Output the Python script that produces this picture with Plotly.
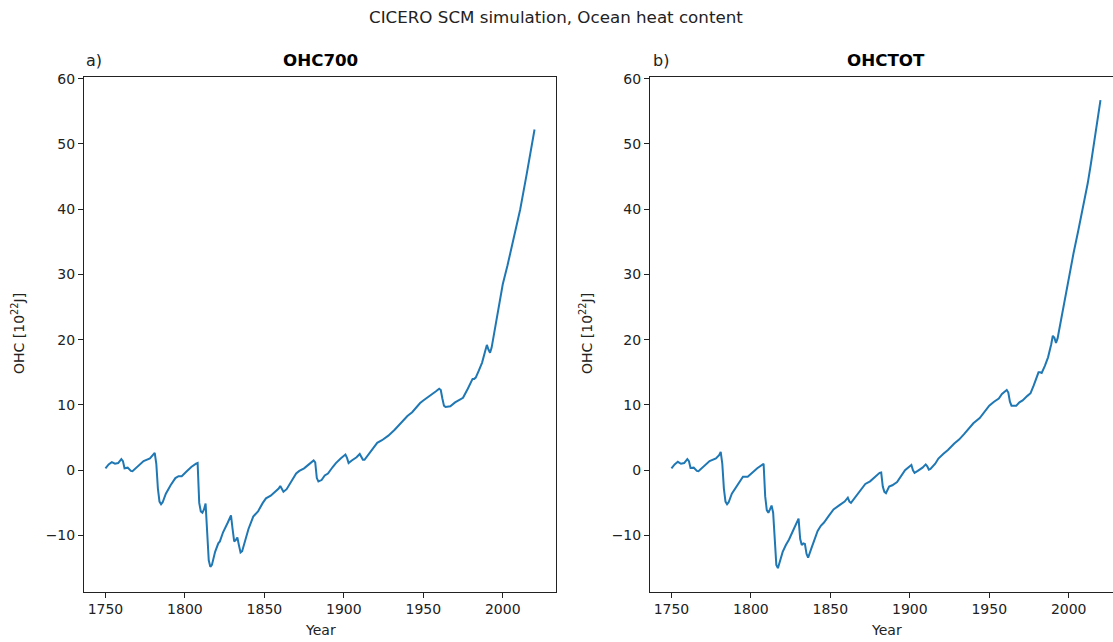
import plotly.graph_objects as go

# ---------------- data ----------------
years_700 = [1750, 1752, 1754, 1756, 1758, 1760, 1761, 1762, 1764, 1766, 1767, 1770, 1774, 1778, 1780,
             1781, 1782, 1783, 1784, 1785, 1786, 1788, 1791, 1794, 1796, 1798, 1801, 1804, 1807, 1808,
             1809, 1810, 1811, 1812, 1813, 1814, 1815, 1816, 1817, 1819, 1821, 1822, 1824, 1827, 1829,
             1830, 1831, 1832, 1833, 1834, 1835, 1836, 1838, 1840, 1843, 1846, 1849, 1851, 1854, 1857,
             1859, 1860, 1861, 1862, 1864, 1867, 1870, 1872, 1875, 1878, 1881, 1882, 1883, 1884, 1886,
             1888, 1890, 1893, 1895, 1898, 1900, 1901, 1902, 1903, 1905, 1908, 1910, 1911, 1912, 1913,
             1916, 1919, 1921, 1924, 1928, 1932, 1936, 1940, 1943, 1945, 1948, 1950, 1953, 1955, 1958,
             1960, 1961, 1962, 1963, 1964, 1967, 1970, 1973, 1975, 1978, 1981, 1982, 1983, 1985, 1987,
             1989, 1990, 1991, 1992, 1993, 1995, 1998, 2000, 2003, 2007, 2011, 2015, 2020]
ohc700 = [0.3, 0.9, 1.25, 1.0, 1.1, 1.7, 1.4, 0.3, 0.4, -0.1, -0.15, 0.5, 1.4, 1.8, 2.3,
          2.65, 1.0, -2.8, -4.8, -5.2, -4.9, -3.6, -2.3, -1.2, -0.9, -0.9, -0.2, 0.5, 1.0, 1.1,
          -5.0, -6.3, -6.5, -6.0, -5.1, -9.5, -13.8, -14.8, -14.5, -12.5, -11.2, -10.9, -9.5, -8.0, -6.9,
          -9.0, -10.9, -10.7, -10.3, -11.5, -12.6, -12.4, -10.5, -9.0, -7.1, -6.3, -5.0, -4.3, -3.9, -3.3,
          -2.8, -2.4, -2.9, -3.3, -2.9, -1.8, -0.5, -0.1, 0.3, 0.9, 1.5, 1.2, -1.2, -1.7, -1.5,
          -0.8, -0.5, 0.5, 1.1, 1.8, 2.2, 2.4, 1.9, 1.1, 1.5, 2.0, 2.5, 2.1, 1.6, 1.6,
          2.6, 3.5, 4.2, 4.6, 5.3, 6.2, 7.3, 8.3, 8.9, 9.5, 10.3, 10.7, 11.2, 11.5, 12.1,
          12.5, 12.3, 11.0, 9.9, 9.7, 9.8, 10.4, 10.9, 11.1, 12.5, 14.0, 14.0, 14.2, 15.3, 16.5,
          18.3, 19.2, 18.5, 18.0, 18.8, 21.5, 25.6, 28.5, 31.4, 35.8, 40.0, 45.3, 52.2]

years_tot = [1750, 1752, 1754, 1756, 1758, 1760, 1761, 1762, 1764, 1766, 1767, 1770, 1774, 1778, 1780,
             1781, 1782, 1783, 1784, 1785, 1786, 1788, 1791, 1795, 1798, 1801, 1804, 1808,
             1809, 1810, 1811, 1812, 1813, 1814, 1815, 1816, 1817, 1818, 1820, 1822, 1824, 1827, 1829,
             1830, 1831, 1832, 1833, 1834, 1835, 1836, 1838, 1840, 1842, 1844, 1846, 1849, 1852, 1856,
             1859, 1861, 1862, 1863, 1866, 1869, 1872, 1875, 1878, 1881, 1882, 1883, 1884, 1885, 1887,
             1889, 1892, 1894, 1897, 1900, 1901, 1902, 1903, 1905, 1908, 1910, 1911, 1912, 1913,
             1916, 1918, 1921, 1924, 1928, 1931, 1934, 1937, 1940, 1944, 1947, 1950, 1953, 1956, 1958,
             1960, 1961, 1962, 1963, 1964, 1967, 1969, 1971, 1974, 1976, 1978, 1980, 1981, 1982, 1983,
             1985, 1987, 1989, 1990, 1991, 1992, 1993, 1995, 1997, 1999, 2001, 2003, 2006, 2009, 2012,
             2014, 2017, 2020]
ohctot = [0.3, 0.9, 1.3, 1.0, 1.1, 1.7, 1.4, 0.35, 0.4, -0.1, -0.15, 0.5, 1.4, 1.8, 2.3,
          2.8, 1.0, -2.8, -4.8, -5.2, -4.9, -3.6, -2.4, -1.0, -1.0, -0.3, 0.3, 1.0,
          -4.0, -6.1, -6.5, -6.0, -5.4, -6.5, -11.5, -14.5, -15.0, -14.2, -12.5, -11.45, -10.6, -9.0, -7.8,
          -7.4, -10.5, -11.45, -11.2, -11.3, -12.8, -13.4, -12.0, -10.5, -9.3, -8.5, -8.0, -7.0, -6.0, -5.3,
          -4.8, -4.2, -4.8, -5.0, -4.0, -3.0, -2.1, -1.7, -1.1, -0.4, -0.35, -2.5, -3.3, -3.5, -2.5,
          -2.3, -1.8, -1.0, 0.0, 0.6, 0.8, 0.0, -0.4, -0.1, 0.4, 0.9, 0.6, 0.1, 0.2,
          1.0, 1.8, 2.5, 3.1, 4.1, 4.7, 5.5, 6.4, 7.2, 8.0, 9.0, 9.9, 10.5, 11.0, 11.7,
          12.2, 12.3, 11.9, 10.5, 9.9, 9.9, 10.4, 10.7, 11.4, 11.8, 13.0, 14.5, 15.0, 15.0, 14.9,
          16.0, 17.3, 19.3, 20.6, 20.3, 19.5, 20.2, 22.8, 25.6, 28.4, 31.0, 33.2, 36.7, 40.1, 44.0,
          47.0, 51.6, 56.7]

x_ticks = [1750, 1800, 1850, 1900, 1950, 2000]
y_ticks = [-10, 0, 10, 20, 30, 40, 50, 60]
y_tick_text = ["\u221210", "0", "10", "20", "30", "40", "50", "60"]

# ---------------- figure ----------------
W, H = 1113, 642
FONT = "DejaVu Sans, Liberation Sans, sans-serif"
BLUE = "#1f77b4"

fig = go.Figure()
fig.add_trace(go.Scatter(x=years_700, y=ohc700, mode="lines",
                         line=dict(color=BLUE, width=2), xaxis="x", yaxis="y",
                         showlegend=False, hoverinfo="skip"))
fig.add_trace(go.Scatter(x=years_tot, y=ohctot, mode="lines",
                         line=dict(color=BLUE, width=2), xaxis="x2", yaxis="y2",
                         showlegend=False, hoverinfo="skip"))

def px_x(p):
    return p / W

def px_y(p):
    # compensate the small vertical offset/scale observed in the rendered page
    q = (p - 6) / 0.9907
    return 1 - q / H

yd = [px_y(591.7), px_y(77)]
axis_common = dict(showgrid=False, zeroline=False, ticks="outside", ticklen=5,
                   tickwidth=1, tickcolor="#222", linecolor="#222", linewidth=1,
                   showline=True, tickfont=dict(family=FONT, size=14, color="#222"))

yrange = [-18.6, 60.25]

fig.update_layout(
    width=W, height=H,
    margin=dict(l=0, r=0, t=0, b=0),
    paper_bgcolor="white", plot_bgcolor="white",
    font=dict(family=FONT, size=14, color="#222"),
    xaxis=dict(domain=[px_x(84), px_x(556)], range=[1736.5, 2033.5],
               tickvals=x_ticks, mirror=True, anchor="y", **axis_common),
    yaxis=dict(domain=yd, range=yrange, tickvals=y_ticks, ticktext=y_tick_text,
               mirror=True, anchor="x", **axis_common),
    xaxis2=dict(domain=[px_x(650), 1.0], range=[1736.5, 1736.5 + (W - 650) / 1.589],
                tickvals=x_ticks, mirror=True, anchor="y2", **axis_common),
    yaxis2=dict(domain=yd, range=yrange, tickvals=y_ticks, ticktext=y_tick_text,
                mirror=False, anchor="x2", **axis_common),
)

ann = []
ann.append(dict(text="CICERO SCM simulation, Ocean heat content", x=556 / W, y=px_y(17),
                xref="paper", yref="paper", showarrow=False, xanchor="center", yanchor="middle",
                font=dict(family=FONT, size=16.7, color="#222")))
for lab, name, xl, xc in [("a)", "OHC700", 84, 320), ("b)", "OHCTOT", 651, 886)]:
    ann.append(dict(text=lab, x=xl / W, y=px_y(61), xref="paper", yref="paper",
                    showarrow=False, xanchor="left", yanchor="middle",
                    font=dict(family=FONT, size=16, color="#222")))
    ann.append(dict(text="<b>" + name + "</b>", x=xc / W, y=px_y(60), xref="paper", yref="paper",
                    showarrow=False, xanchor="center", yanchor="middle",
                    font=dict(family=FONT, size=16.7, color="#000")))
    ann.append(dict(text="Year", x=xc / W, y=px_y(630), xref="paper", yref="paper",
                    showarrow=False, xanchor="center", yanchor="middle",
                    font=dict(family=FONT, size=14, color="#222")))
for xy in [18, 586]:
    ann.append(dict(text="OHC [10<sup>22</sup>J]", x=xy / W, y=px_y(334), xref="paper",
                    yref="paper", showarrow=False, textangle=-90, xanchor="center",
                    yanchor="middle", font=dict(family=FONT, size=14, color="#222")))
fig.update_layout(annotations=ann)

fig.write_html("out.html", config={"displayModeBar": False},
               post_script="document.body.style.margin='0';document.body.style.overflow='hidden';")
